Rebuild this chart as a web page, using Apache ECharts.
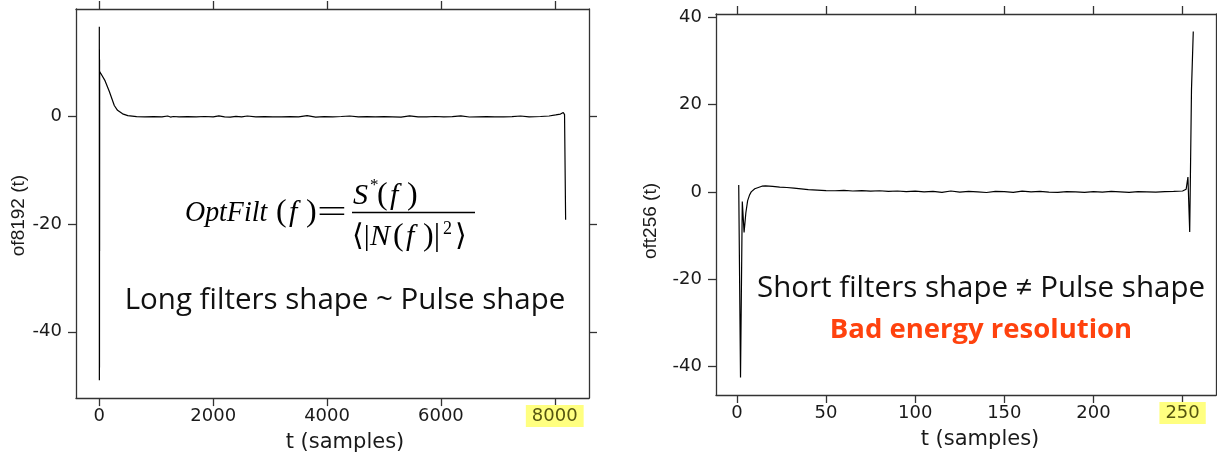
<!DOCTYPE html>
<html>
<head>
<meta charset="utf-8">
<script src="https://cdn.jsdelivr.net/npm/echarts@6/dist/echarts.min.js"></script>
<style>
  html, body { margin: 0; padding: 0; background: #fff; }
  #chart { width: 1217px; height: 458px; }
</style>
</head>
<body>
<div id="chart"></div>
<script>
// left panel: 8192-sample optimal filter
const leftT = [0, 1, 2, 3, 4, 5, 6, 30, 100, 176, 263, 320, 409, 500, 655, 800, 950, 1100, 1200, 1250,
  1300, 1400, 1550, 1700, 1850, 2000, 2100, 2200, 2300, 2400, 2500, 2600, 2750, 2900, 3050, 3200, 3350,
  3500, 3650, 3800, 3950, 4100, 4250, 4400, 4550, 4700, 4850, 5000, 5150, 5300, 5450, 5600, 5750, 5900,
  6050, 6200, 6350, 6500, 6650, 6800, 6950, 7100, 7250, 7400, 7550, 7750, 7900, 8017, 8100, 8150, 8165,
  8172, 8191]
const leftV = [16.6, -49, 12.4, -46.6, 10.5, -25, 8.3, 8.2, 6.6, 4.6, 2.0, 1.1, 0.45, 0.12, -0.07, -0.1,
  -0.08, -0.12, 0.05, -0.15, -0.05, -0.1, -0.08, -0.1, -0.05, -0.12, 0.08, -0.1, -0.18, -0.02, -0.1, 0.05,
  -0.1, -0.08, -0.1, -0.12, -0.06, -0.1, 0.1, -0.15, -0.08, -0.1, -0.05, 0.05, -0.12, -0.08, -0.1, -0.06,
  -0.1, -0.15, 0.08, -0.1, -0.12, -0.05, -0.1, -0.08, 0.06, -0.14, -0.1, -0.06, -0.1, -0.12, -0.08, 0.05,
  -0.1, -0.05, 0.05, 0.24, 0.4, 0.7, 0.85, 0.3, -19.2]
const leftXTicks = [0, 2000, 4000, 6000, 8000]
const leftYTicks = [-40, -20, 0]

// right panel: 256-sample optimal filter
const rightT = [1, 2, 3, 4, 5, 6, 7, 8, 9, 10, 12, 14, 16, 18, 20, 24, 28, 32, 36, 40,
  45, 50, 55, 60, 65, 70, 75, 80, 85, 90, 95, 100, 105, 110, 115, 120, 125, 130, 135, 140,
  145, 150, 155, 160, 165, 170, 175, 180, 185, 190, 195, 200, 205, 210, 215, 220, 225, 230, 235, 240,
  245, 250, 252, 253, 254, 255, 256]
const rightV = [1.6, -42.6, -2.2, -9.3, -4.8, -2.0, -0.8, 0.0, 0.4, 0.7, 1.0, 1.3, 1.35, 1.3, 1.25, 1.1, 1.0, 0.85, 0.7, 0.5,
  0.4, 0.3, 0.25, 0.35, 0.2, 0.3, 0.15, 0.25, 0.1, 0.2, 0.05, 0.15, 0.0, 0.1, -0.1, 0.2, -0.05, 0.1, 0.0, -0.15,
  0.1, 0.05, -0.1, 0.15, 0.0, 0.1, -0.05, -0.1, 0.05, 0.0, -0.1, 0.05, -0.05, 0.1, 0.0, -0.1, 0.05, 0.0, -0.05, 0.05,
  0.1, 0.2, 0.6, 3.4, -9.2, 23.5, 36.8]
const rightXTicks = [0, 50, 100, 150, 200, 250]
const rightYTicks = [-40, -20, 0, 20, 40]

const highlighted = [8000, 250]

const frame = '#333'
const tickFont = 'DejaVu Sans'
const chart = echarts.init(document.getElementById('chart'))

function xAxes (gi, min, max, ticks, nameGap, namePad) {
  const common = {
    type: 'value', gridIndex: gi, min, max,
    axisLine: { show: true, onZero: false, lineStyle: { color: frame, width: 1.3 } },
    axisTick: { show: true, length: 8, lineStyle: { color: frame, width: 1.3 }, customValues: ticks },
    splitLine: { show: false },
  }
  return [
    { ...common, position: 'bottom',
      name: 't (samples)', nameLocation: 'middle', nameGap,
      nameTextStyle: { fontFamily: tickFont, fontSize: 21, color: '#1a1a1a', padding: namePad },
      axisLabel: { show: true, customValues: ticks, margin: 7, fontFamily: tickFont, fontSize: 18, color: '#1a1a1a',
        formatter: v => highlighted.includes(v) ? '{hl|' + v + '}' : '{n|' + v + '}',
        rich: {
          n: { fontFamily: tickFont, fontSize: 18, color: '#1a1a1a', padding: [2, 6] },
          hl: { fontFamily: tickFont, fontSize: 18, color: '#55550f', backgroundColor: '#ffff80', padding: [2, 6] },
        } } },
    { ...common, position: 'top', axisLabel: { show: false } },
  ]
}

function yAxes (gi, min, max, ticks, name, nameGap, namePad) {
  const common = {
    type: 'value', gridIndex: gi, min, max,
    axisLine: { show: true, onZero: false, lineStyle: { color: frame, width: 1.3 } },
    axisTick: { show: true, length: 8, lineStyle: { color: frame, width: 1.3 }, customValues: ticks },
    splitLine: { show: false },
  }
  return [
    { ...common, position: 'left',
      name, nameLocation: 'middle', nameGap,
      nameTextStyle: { fontFamily: 'Liberation Sans', fontSize: 19, color: '#1a1a1a', padding: namePad },
      axisLabel: { show: true, customValues: ticks, margin: 14, fontFamily: tickFont, fontSize: 18, color: '#1a1a1a' } },
    { ...common, position: 'right', axisLabel: { show: false } },
  ]
}

const serif = 'Liberation Serif, DejaVu Serif, serif'
const txt = (x, y, text, font, extra) => ({ type: 'text', x, y, z: 10,
  style: Object.assign({ text, font, fill: '#000', align: 'left', verticalAlign: 'middle' }, extra || {}) })

chart.setOption({
  animation: false,
  grid: [
    { left: 76, top: 9, width: 513, height: 390 },
    { left: 716, top: 14, width: 500, height: 381 },
  ],
  xAxis: [
    ...xAxes(0, -409.6, 8601.6, leftXTicks, 30, [0, 0, 0, 25]),
    ...xAxes(1, -11.75, 268.75, rightXTicks, 34, [0, 0, 0, 28]),
  ],
  yAxis: [
    ...yAxes(0, -52.3, 19.9, leftYTicks, 'of8192 (t)', 47, [0, 24, 0, 0]),
    ...yAxes(1, -46.6, 40.8, rightYTicks, 'oft256 (t)', 56, [0, 33, 0, 0]),
  ],
  series: [
    { type: 'line', xAxisIndex: 0, yAxisIndex: 0, showSymbol: false, symbol: 'none',
      lineStyle: { color: '#000', width: 1.2 }, data: leftT.map((t, i) => [t, leftV[i]]) },
    { type: 'line', xAxisIndex: 2, yAxisIndex: 2, showSymbol: false, symbol: 'none',
      lineStyle: { color: '#000', width: 1.2 }, data: rightT.map((t, i) => [t, rightV[i]]) },
  ],
  graphic: [
    // formula
    Object.assign(txt(185, 213, 'OptFilt', 'italic 30px ' + serif), { scaleX: 0.93 }),
    txt(276, 213, '(', '32px ' + serif),
    txt(289, 213, 'f', 'italic 30px ' + serif),
    txt(306, 213, ')', '32px ' + serif),
    { type: 'text', x: 317, y: 214, z: 10, scaleX: 1.65,
      style: { text: '=', font: '32px ' + serif, fill: '#000', align: 'left', verticalAlign: 'middle' } },
    txt(353, 196, 'S', 'italic 30px ' + serif),
    txt(370, 186, '*', '17px ' + serif),
    txt(377, 196, '(', '32px ' + serif),
    txt(390, 196, 'f', 'italic 30px ' + serif),
    txt(407, 196, ')', '32px ' + serif),
    { type: 'line', z: 10, shape: { x1: 352, y1: 212.5, x2: 475, y2: 212.5 }, style: { stroke: '#000', lineWidth: 1.4 } },
    txt(352, 237, '⟨|', '30px ' + serif),
    txt(370, 237, 'N', 'italic 30px ' + serif),
    txt(393, 237, '(', '32px ' + serif),
    txt(406, 237, 'f', 'italic 30px ' + serif),
    txt(423, 237, ')|', '32px ' + serif),
    txt(443, 229, '2', '18px ' + serif),
    txt(455, 237, '⟩', '30px ' + serif),
    // captions
    txt(345, 301, 'Long filters shape ~ Pulse shape', '29.5px Open Sans', { align: 'center', fill: '#111' }),
    txt(981, 289, 'Short filters shape ≠ Pulse shape', '29.5px Open Sans', { align: 'center', fill: '#111' }),
    txt(981, 330, 'Bad energy resolution', 'bold 27.5px Open Sans', { align: 'center', fill: '#ff420e' }),
  ],
})
</script>
</body>
</html>
